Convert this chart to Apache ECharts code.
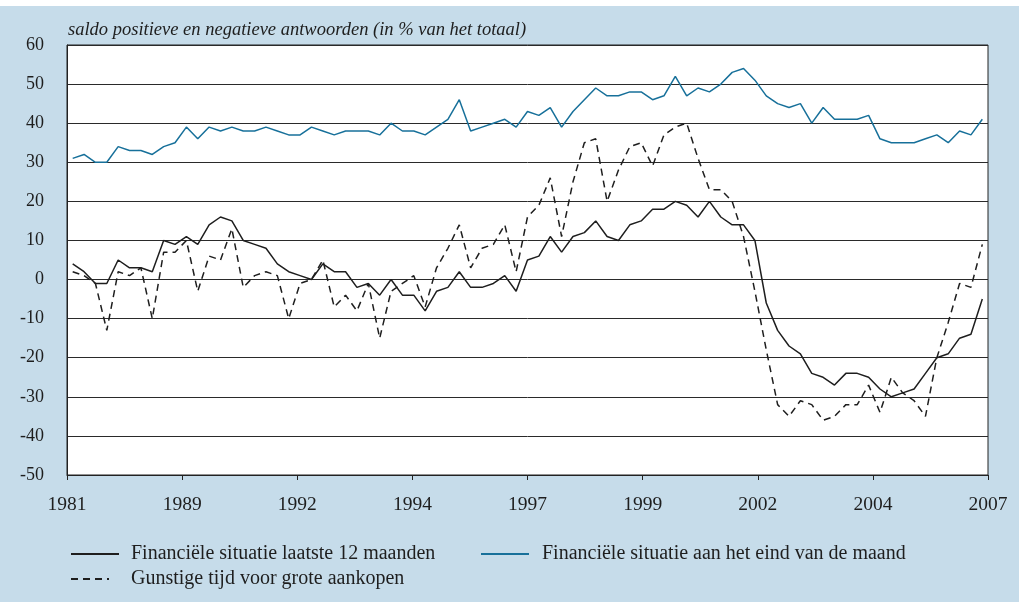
<!DOCTYPE html>
<html>
<head>
<meta charset="utf-8">
<title>Consumentenvertrouwen</title>
<script src="https://cdn.jsdelivr.net/npm/echarts@6/dist/echarts.min.js"></script>
<style>
  html, body { margin: 0; padding: 0; background: #fff; }
  #chart { width: 1019px; height: 602px; }
</style>
</head>
<body>
<div id="chart"></div>
<script>
// labels onder de x-as (9 streepjes, gelijk verdeeld)
const yearLabels = ['1981', '1989', '1992', '1994', '1997', '1999', '2002', '2004', '2007']

const seriesNames = [
  'Financiële situatie laatste 12 maanden',
  'Financiële situatie aan het eind van de maand',
  'Gunstige tijd voor grote aankopen',
]

// 81 waarnemingen per reeks
const laatste12 = [
  4, 2, -1, -1, 5, 3, 3, 2, 10, 9, 11, 9, 14, 16, 15, 10, 9, 8, 4, 2, 1,
  0, 4, 2, 2, -2, -1, -4, 0, -4, -4, -8, -3, -2, 2, -2, -2, -1, 1, -3, 5, 6,
  11, 7, 11, 12, 15, 11, 10, 14, 15, 18, 18, 20, 19, 16, 20, 16, 14, 14, 10, -6,
  -13, -17, -19, -24, -25, -27, -24, -24, -25, -28, -30, -29, -28, -24, -20, -19, -15, -14, -5,
]

const eindMaand = [
  31, 32, 30, 30, 34, 33, 33, 32, 34, 35, 39, 36, 39, 38, 39, 38, 38, 39, 38, 37, 37,
  39, 38, 37, 38, 38, 38, 37, 40, 38, 38, 37, 39, 41, 46, 38, 39, 40, 41, 39, 43, 42,
  44, 39, 43, 46, 49, 47, 47, 48, 48, 46, 47, 52, 47, 49, 48, 50, 53, 54, 51, 47,
  45, 44, 45, 40, 44, 41, 41, 41, 42, 36, 35, 35, 35, 36, 37, 35, 38, 37, 41,
]

const aankopen = [
  2, 1, -1, -13, 2, 1, 3, -10, 7, 7, 10, -3, 6, 5, 13, -2, 1, 2, 1, -10, -1,
  0, 5, -7, -4, -8, -1, -15, -3, -1, 1, -7, 3, 8, 14, 3, 8, 9, 14, 2, 16, 19,
  26, 11, 25, 35, 36, 20, 28, 34, 35, 29, 37, 39, 40, 31, 23, 23, 20, 11, -3, -18,
  -32, -35, -31, -32, -36, -35, -32, -32, -27, -34, -25, -29, -31, -35, -20, -11, -1, -2, 9,
]

const n = laatste12.length
const tickStep = n / (yearLabels.length - 1)
// elke waarneming in het midden van zijn vakje
const toPoints = (arr) => arr.map((v, i) => [i + 0.5, v])

const fontFam = '"Liberation Serif", serif'
const textColor = '#1e1e1e'

const myChart = echarts.init(document.getElementById('chart'))

const lineSeries = (name, data, color, dash) => ({
  name: name,
  type: 'line',
  data: toPoints(data),
  symbol: 'none',
  animation: false,
  lineStyle: { color: color, width: 1.5, type: dash ? [7, 5] : 'solid' },
  itemStyle: { color: color },
})

// drie losse legenda's, zodat ze net als in het origineel in twee kolommen staan
// itemHeight klein + transparante itemStyle: alleen het lijntje, geen bolletje
const makeLegend = (name, left, top, width, pad) => ({
  data: [name],
  left: left,
  top: top,
  itemWidth: width,
  itemHeight: 2,
  padding: 0,
  itemStyle: { color: 'rgba(0,0,0,0)', borderWidth: 0 },
  textStyle: {
    fontFamily: fontFam,
    fontSize: 20,
    color: textColor,
    padding: [0, 0, 0, pad],
  },
})

const option = {
  backgroundColor: '#c6dcea',
  animation: false,
  title: {
    text: 'saldo positieve en negatieve antwoorden (in % van het totaal)',
    left: 63,
    top: 16,
    textStyle: {
      fontFamily: fontFam,
      fontStyle: 'italic',
      fontWeight: 'normal',
      fontSize: 18.5,
      color: textColor,
    },
  },
  graphic: [
    { type: 'rect', left: 0, top: 0, shape: { width: 1019, height: 6 }, style: { fill: '#fff' } },
  ],
  grid: {
    left: 67,
    right: 31,
    top: 45,
    bottom: 127,
    show: true,
    backgroundColor: '#fff',
    borderColor: '#222',
    borderWidth: 1,
  },
  legend: [
    makeLegend(seriesNames[0], 70, 544, 48, 7),
    makeLegend(seriesNames[1], 480, 544, 48, 8),
    makeLegend(seriesNames[2], 70, 569, 38, 17),
  ],
  xAxis: {
    type: 'value',
    min: 0,
    max: n,
    interval: tickStep,
    splitLine: { show: false },
    axisLine: { show: true, onZero: false, lineStyle: { color: '#222', width: 1 } },
    axisTick: { show: true, inside: false, length: 5, lineStyle: { color: '#222' } },
    axisLabel: {
      margin: 20,
      fontFamily: fontFam,
      fontSize: 19.5,
      color: textColor,
      showMinLabel: true,
      showMaxLabel: true,
      formatter: (v) => yearLabels[Math.round(v / tickStep)] || '',
    },
  },
  yAxis: {
    type: 'value',
    min: -50,
    max: 60,
    interval: 10,
    axisLine: { show: true, lineStyle: { color: '#222', width: 1 } },
    axisTick: { show: false },
    splitLine: { show: true, lineStyle: { color: '#2a2a2a', width: 1 } },
    axisLabel: {
      margin: 23,
      fontFamily: fontFam,
      fontSize: 18,
      color: textColor,
    },
  },
  series: [
    lineSeries(seriesNames[0], laatste12, '#1e1e1e', false),
    lineSeries(seriesNames[1], eindMaand, '#17709a', false),
    lineSeries(seriesNames[2], aankopen, '#1e1e1e', true),
  ],
}

myChart.setOption(option)
</script>
</body>
</html>
